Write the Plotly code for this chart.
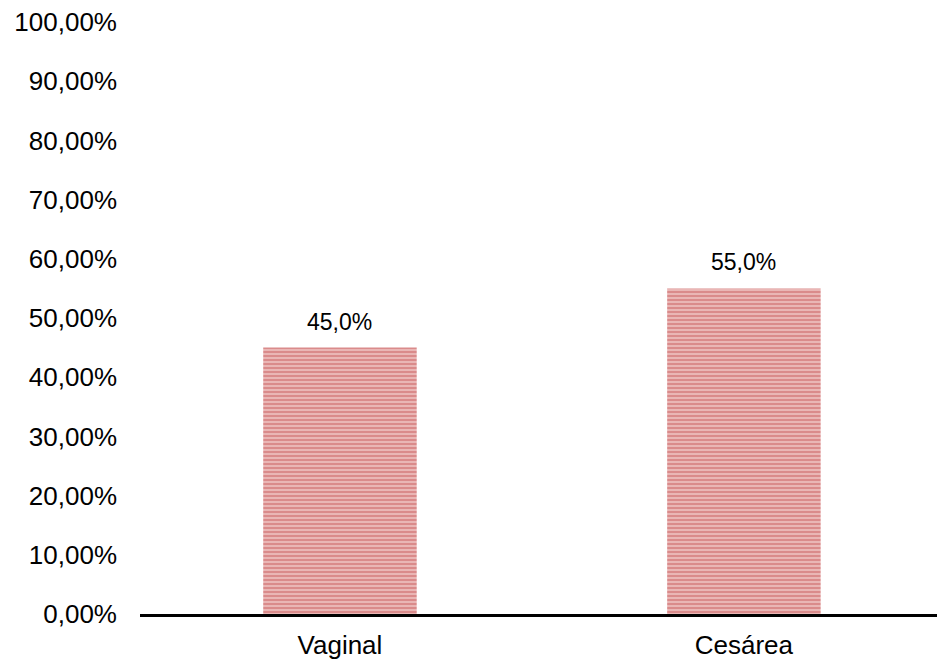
import plotly.graph_objects as go

categories = ["Vaginal", "Cesárea"]
values = [0.45, 0.55]
value_labels = ["45,0%", "55,0%"]

fig = go.Figure()
fig.add_trace(go.Bar(
    x=categories,
    y=values,
    width=0.38,
    hoverinfo="skip",
    marker=dict(
        color="#f3d0cf",
        line=dict(width=0),
        pattern=dict(shape="-", fgcolor="#bf4446", bgcolor="#f4d2d1", size=4, solidity=0.7),
    ),
))

for c, v, t in zip(categories, values, value_labels):
    fig.add_annotation(
        x=c, y=v, text=t, showarrow=False, yanchor="bottom", yshift=11,
        font=dict(family="Liberation Sans, Arial", size=23, color="#000000"),
    )

fig.update_layout(
    width=937, height=664,
    margin=dict(l=140, r=0, t=22, b=50),
    paper_bgcolor="white", plot_bgcolor="white",
    separators=",.",
    showlegend=False,
    font=dict(family="Liberation Sans, Arial", size=26, color="#000000"),
)
fig.update_xaxes(
    range=[-0.495, 1.478],
    showline=True, linecolor="black", linewidth=3,
    showgrid=False, zeroline=False,
    ticks="", ticklabelstandoff=6,
    tickfont=dict(size=26),
)
fig.update_yaxes(
    range=[0, 1],
    tickvals=[0, 0.1, 0.2, 0.3, 0.4, 0.5, 0.6, 0.7, 0.8, 0.9, 1.0],
    tickformat=".2%",
    showline=False, showgrid=False, zeroline=False,
    ticks="", ticklabelstandoff=22,
    tickfont=dict(size=26),
)

fig.write_html(
    "out.html",
    config={"displayModeBar": False},
    post_script="document.body.style.margin='0';document.body.style.overflow='hidden';",
)
